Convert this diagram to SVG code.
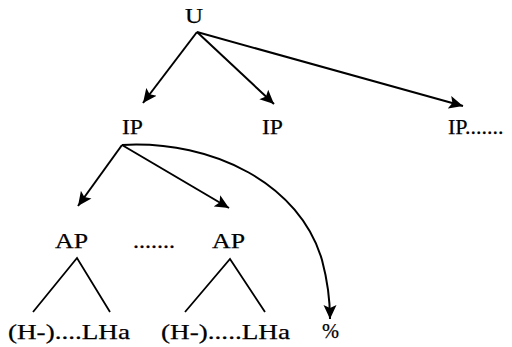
<svg xmlns="http://www.w3.org/2000/svg" width="512" height="347" viewBox="0 0 512 347">
<defs>
<style>
text{font-family:"Liberation Serif","Times New Roman",serif;font-size:22px;fill:#000;stroke:#000;stroke-width:0.25}
.c{fill:none;stroke:#000;stroke-width:2}
.t{fill:none;stroke:#000;stroke-width:1.8}
</style>
<marker id="ah" markerUnits="userSpaceOnUse" markerWidth="16" markerHeight="14" refX="14" refY="7" orient="auto">
<path d="M0,0.5 L14,7 L0,13.5 L3,7 z" fill="#000"/>
</marker>
</defs>
<rect width="512" height="347" fill="#fff"/>
<g id="connectors">
<path class="c" d="M197,32 L143,103" marker-end="url(#ah)"/>
<path class="c" d="M197,32 L274,104" marker-end="url(#ah)"/>
<path class="c" d="M197,32 L463,106" marker-end="url(#ah)"/>
<path class="c" d="M122,145 L78,206" marker-end="url(#ah)"/>
<path class="c" d="M122,145 L229,208" marker-end="url(#ah)"/>
<path class="c" d="M122,145 C215,140 300,185 322,260 Q330,290 330,319" marker-end="url(#ah)"/>
<path class="t" d="M33,312 L77,258 L110,312"/>
<path class="t" d="M185,312 L230,259 L265,312"/>
</g>
<g id="U"><text x="185" y="23" textLength="18" lengthAdjust="spacingAndGlyphs">U</text></g>
<g id="IP1"><text x="122" y="134" textLength="21" lengthAdjust="spacingAndGlyphs">IP</text></g>
<g id="IP2"><text x="262" y="134" textLength="21" lengthAdjust="spacingAndGlyphs">IP</text></g>
<g id="IP3"><text x="448" y="134">IP.......</text></g>
<g id="AP1"><text x="55" y="248" textLength="33" lengthAdjust="spacingAndGlyphs">AP</text></g>
<g id="dots"><text x="133" y="248" textLength="42" lengthAdjust="spacingAndGlyphs">.......</text></g>
<g id="AP2"><text x="212" y="248" textLength="33" lengthAdjust="spacingAndGlyphs">AP</text></g>
<g id="T1"><text x="8" y="339" textLength="122" lengthAdjust="spacingAndGlyphs">(H-)....LHa</text></g>
<g id="T2"><text x="161" y="339" textLength="129" lengthAdjust="spacingAndGlyphs">(H-).....LHa</text></g>
<g id="pct"><text x="322" y="338" textLength="17" lengthAdjust="spacingAndGlyphs">%</text></g>
</svg>
